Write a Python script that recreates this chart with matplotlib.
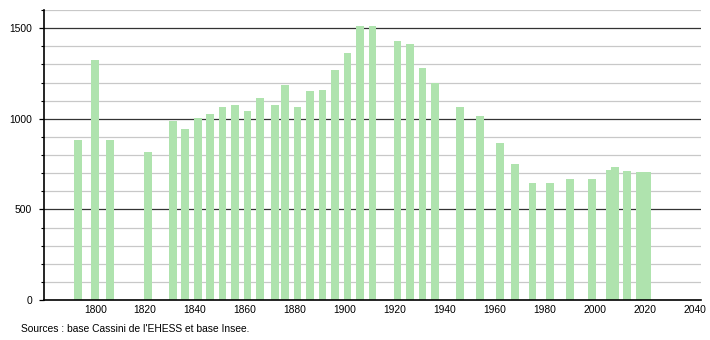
import matplotlib
matplotlib.use("Agg")
import matplotlib.pyplot as plt
from matplotlib.ticker import MultipleLocator

# census years and population
years = [1793, 1800, 1806, 1821, 1831, 1836, 1841, 1846, 1851, 1856,
         1861, 1866, 1872, 1876, 1881, 1886, 1891, 1896, 1901, 1906,
         1911, 1921, 1926, 1931, 1936, 1946, 1954, 1962, 1968, 1975,
         1982, 1990, 1999, 2006, 2008, 2013, 2018, 2021]
population = [885, 1324, 885, 815, 985, 941, 1002, 1028, 1065, 1074,
              1042, 1117, 1074, 1185, 1067, 1153, 1157, 1268, 1363, 1509,
              1514, 1429, 1413, 1278, 1200, 1067, 1014, 864, 753, 646,
              646, 669, 665, 715, 735, 711, 704, 704]
xticks = list(range(1800, 2041, 20))
yticks = [0, 500, 1000, 1500]
source = "Sources : base Cassini de l'EHESS et base Insee."

plt.rcParams["font.family"] = ["Liberation Sans", "DejaVu Sans"]

fig = plt.figure(figsize=(7.1, 3.4), dpi=100)
ax = fig.add_axes([44 / 710, 40 / 340, 657 / 710, 290 / 340])

# grid: light grey every 100, dark every 500
for v in range(100, 1601, 100):
    if v % 500 == 0:
        ax.axhline(v, color="#333333", lw=0.9, zorder=1)
    else:
        ax.axhline(v, color="#c8c8c8", lw=0.9, zorder=1)

ax.bar(years, population, width=3.1, color="#afe3ae", zorder=2)

ax.set_xlim(1779.5, 2042.5)
ax.set_ylim(0, 1600)
ax.set_xticks(xticks)
ax.set_yticks(yticks)
ax.yaxis.set_minor_locator(MultipleLocator(100))
ax.tick_params(axis="x", length=0, pad=3.5, labelsize=7.4)
ax.tick_params(axis="y", which="major", length=3.6, width=0.9, pad=5, labelsize=7.4)
ax.tick_params(axis="y", which="minor", length=2.5, width=0.8)

for s in ["top", "right"]:
    ax.spines[s].set_visible(False)
for s in ["left", "bottom"]:
    ax.spines[s].set_linewidth(1.2)
    ax.spines[s].set_zorder(3)

fig.text(21 / 710, 1 - 329 / 340, source, fontsize=7.4, va="center", ha="left")

fig.savefig("out.png", dpi=100)
